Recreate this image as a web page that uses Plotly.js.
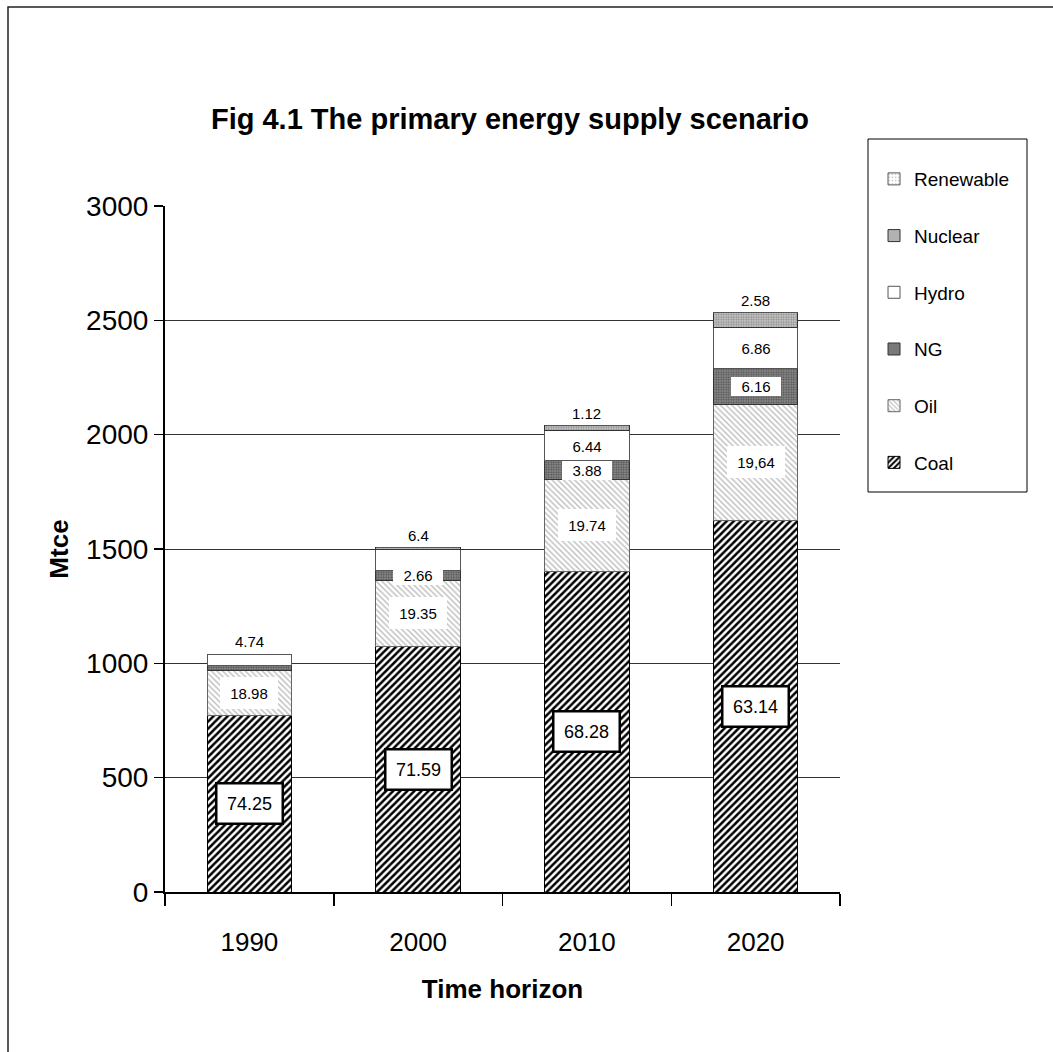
<!DOCTYPE html>
<html>
<head>
<meta charset="utf-8">
<script src="https://cdn.plot.ly/plotly-3.0.1.min.js"></script>
<style>
  html, body { margin: 0; padding: 0; background: #fff; }
  #chart { width: 1053px; height: 1052px; }
</style>
</head>
<body>
<div id="chart"></div>
<script>
// Primary energy supply by source, Mtce, with each source's share (%) of the total
const years = ['1990', '2000', '2010', '2020'];
const totalSupply = [1040, 1500, 2051, 2575];

const coalShare      = [74.25, 71.59, 68.28, 63.14];
const oilShare       = [18.98, 19.35, 19.74, 19.64];
const ngShare        = [2.03, 2.66, 3.88, 6.16];
const hydroShare     = [4.74, 6.4, 6.44, 6.86];
const nuclearShare   = [0, 0.3, 1.12, 2.58];
const renewableShare = [0, 0, 0, 0];

const coalLabels      = ['74.25', '71.59', '68.28', '63.14'];
const oilLabels       = ['18.98', '19.35', '19.74', '19,64'];
const ngLabels        = ['', '2.66', '3.88', '6.16'];
const hydroLabels     = ['4.74', '6.4', '6.44', '6.86'];
const nuclearLabels   = ['', '', '1.12', '2.58'];
const renewableLabels = ['', '', '', ''];

const SANS = '"Liberation Sans", Arial, sans-serif';

const toMtce = shares => shares.map((s, i) => totalSupply[i] * s / 100);

// Stacking order, bottom to top; the legend lists them top to bottom
const sources = [
  { name: 'Coal', shares: coalShare, labels: coalLabels,
    pattern: { shape: '/', fgcolor: '#000', bgcolor: '#fff', size: 5, solidity: 0.5, fillmode: 'replace' },
    line: '#000', box: { w: 64, h: 38, border: 2.5, size: 18 } },
  { name: 'Oil', shares: oilShare, labels: oilLabels,
    pattern: { shape: '\\', fgcolor: '#bdbdbd', bgcolor: '#fff', size: 4, solidity: 0.35, fillmode: 'replace' },
    line: '#666', box: { w: 58, h: 32, border: 0, size: 15 } },
  { name: 'NG', shares: ngShare, labels: ngLabels,
    pattern: { shape: '.', fgcolor: '#555', bgcolor: '#959595', size: 2.5, solidity: 0.5, fillmode: 'replace' },
    line: '#333', box: { w: 50, h: 19, border: 0, size: 15 } },
  { name: 'Hydro', shares: hydroShare, labels: hydroLabels,
    pattern: { shape: '', fgcolor: '#fff', bgcolor: '#fff' },
    line: '#555', box: { w: 46, h: 20, border: 0, size: 15 } },
  { name: 'Nuclear', shares: nuclearShare, labels: nuclearLabels,
    pattern: { shape: '.', fgcolor: '#8a8a8a', bgcolor: '#cdcdcd', size: 2.5, solidity: 0.45, fillmode: 'replace' },
    line: '#333', box: { w: 46, h: 20, border: 0, size: 15 } },
  { name: 'Renewable', shares: renewableShare, labels: renewableLabels,
    pattern: { shape: '.', fgcolor: '#9a9a9a', bgcolor: '#fff', size: 4, solidity: 0.15, fillmode: 'replace' },
    line: '#555', box: { w: 46, h: 20, border: 0, size: 15 } }
];

const traces = sources.map((src, k) => ({
  type: 'bar',
  name: src.name,
  legendgroup: src.name,
  legendrank: sources.length - k,
  x: years,
  y: toMtce(src.shares),
  marker: { color: '#fff', pattern: src.pattern, line: { color: src.line, width: 1 } },
  hoverinfo: 'skip'
}));

// Share labels: centred in their segment; a thin top segment gets its label above the column.
// Annotations use the category index so numeric-looking year names are not read as positions.
const annotations = [];
years.forEach((yr, i) => {
  let base = 0;
  const segs = sources.map(src => {
    const v = totalSupply[i] * src.shares[i] / 100;
    const seg = { src, lo: base, hi: base + v, label: src.labels[i] };
    base += v;
    return seg;
  });
  const columnTop = base;
  const labelled = segs.filter(s => s.label !== '');
  const topLabelled = labelled[labelled.length - 1];
  labelled.forEach(s => {
    const above = (s === topLabelled) && (s.hi - s.lo) < 100;
    if (above) {
      annotations.push({
        x: i, y: columnTop, xref: 'x', yref: 'y', yanchor: 'bottom', yshift: 2,
        text: s.label, showarrow: false,
        font: { family: SANS, size: 15, color: '#000' }
      });
    } else {
      const b = s.src.box;
      annotations.push({
        x: i, y: (s.lo + s.hi) / 2, xref: 'x', yref: 'y',
        text: s.label, showarrow: false,
        width: b.w, height: b.h, borderpad: 0,
        bgcolor: '#fff',
        bordercolor: b.border ? '#000' : 'rgba(0,0,0,0)', borderwidth: b.border,
        font: { family: SANS, size: b.size, color: '#000' }
      });
    }
  });
});

const layout = {
  width: 1053, height: 1052,
  paper_bgcolor: '#fff', plot_bgcolor: '#fff',
  margin: { l: 165, r: 213, t: 206, b: 160 },
  barmode: 'stack',
  bargap: 0.5,
  showlegend: true,
  title: {
    text: 'Fig 4.1 The primary energy supply scenario',
    font: { family: SANS, size: 29, weight: 'bold', color: '#000' },
    xref: 'paper', x: 0.511, xanchor: 'center',
    yref: 'container', y: 0.887, yanchor: 'middle'
  },
  xaxis: {
    type: 'category',
    showline: true, linecolor: '#000', linewidth: 2,
    ticks: 'outside', tickson: 'boundaries', ticklen: 12, tickwidth: 1.5, tickcolor: '#000',
    tickfont: { family: SANS, size: 26, color: '#000' },
    ticklabelstandoff: 26,
    tickangle: 0,
    showgrid: false,
    title: { text: 'Time horizon', font: { family: SANS, size: 26, weight: 'bold', color: '#000' }, standoff: 24 }
  },
  yaxis: {
    range: [0, 3000], dtick: 500, tick0: 0,
    showline: true, linecolor: '#000', linewidth: 2,
    ticks: 'outside', ticklen: 9, tickwidth: 1.5, tickcolor: '#000',
    tickfont: { family: SANS, size: 28, color: '#000' },
    showgrid: true, gridcolor: '#333', gridwidth: 1, zeroline: false,
    title: { text: 'Mtce', font: { family: SANS, size: 26, weight: 'bold', color: '#000' }, standoff: 10 }
  },
  legend: {
    x: 1.0504, xanchor: 'left', y: 1.067, yanchor: 'top',
    traceorder: 'grouped', tracegroupgap: 29,
    bgcolor: 'rgba(0,0,0,0)', borderwidth: 0,
    font: { family: SANS, size: 19, color: '#000' },
    itemclick: false, itemdoubleclick: false
  },
  shapes: [
    { // legend frame
      type: 'rect', xref: 'paper', yref: 'paper', layer: 'below',
      x0: 703 / 675, x1: 862 / 675, y0: 400 / 686, y1: 753 / 686,
      line: { color: '#000', width: 1 }, fillcolor: '#fff'
    },
    { // figure frame
      type: 'rect', xref: 'paper', yref: 'paper', layer: 'below',
      x0: -157 / 675, x1: 1.4, y0: -0.3, y1: 885 / 686,
      line: { color: '#222', width: 1.5 }, fillcolor: 'rgba(0,0,0,0)'
    }
  ],
  annotations: annotations
};

Plotly.newPlot('chart', traces, layout, { staticPlot: true, displayModeBar: false });
</script>
</body>
</html>
